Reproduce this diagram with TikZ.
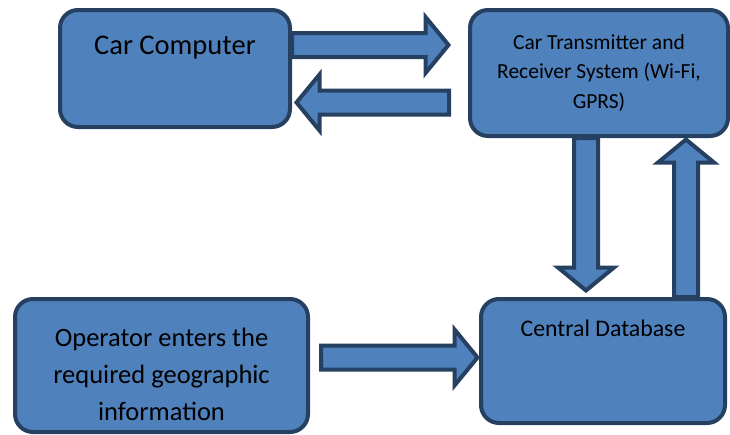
\documentclass[tikz,border=0pt]{standalone}
\usepackage{fontspec}
\setmainfont{Carlito}
\usetikzlibrary{calc}
\definecolor{boxfill}{RGB}{79,129,189}
\definecolor{boxline}{RGB}{38,64,97}
\begin{document}
\begin{tikzpicture}[x=1pt,y=-1pt,
  box/.style={draw=boxline,fill=boxfill,line width=4pt,rounded corners=18pt,inner sep=0pt,align=center},
  barrow/.style={draw=boxline,fill=boxfill,line width=4pt,line join=miter}]
\useasboundingbox (0,0) rectangle (730,434);
\newcommand\blockarrow[2]{
\path[barrow] let \p1=($(#2)-(#1)$), \n1={veclen(\x1,\y1)}, \n2={atan2(\y1,\x1)} in
  [shift={(#1)},rotate=\n2] (0pt,-12pt) -- (\n1-23pt,-12pt) -- (\n1-23pt,-28pt) -- (\n1,0pt)
  -- (\n1-23pt,28pt) -- (\n1-23pt,12pt) -- (0pt,12pt) -- cycle;
}
\node[box,minimum width=230pt,minimum height=117pt,text height=44.3pt,text depth=72.7pt,
  font=\fontsize{28.5}{34}\selectfont] (cc) at (175,68.5) {Car Computer};
\node[box,minimum width=258pt,minimum height=126pt,
  font=\fontsize{21.5}{29.5}\selectfont] (tr) at (599,73) {Car Transmitter and\\Receiver System (Wi-Fi,\\GPRS)};
\node[box,minimum width=293pt,minimum height=133pt,
  font=\fontsize{26.5}{37}\selectfont] (op) at (161.5,365.5) {\rule{0pt}{36pt}Operator enters the\\required geographic\\information};
\node[box,minimum width=244pt,minimum height=124pt,text height=37.7pt,text depth=86.3pt,
  font=\fontsize{23.8}{28}\selectfont] (db) at (603,361) {Central Database};
\coordinate (a1s) at ($(cc.east)+(0,-23.5)$);
\coordinate (a1t) at ($(tr.west)+(-19.5,-28)$);
\coordinate (a2s) at ($(tr.west)+(-19,29.5)$);
\coordinate (a2t) at ($(cc.east)+(4.5,34)$);
\coordinate (a3s) at ($(tr.south)+(-13,0)$);
\coordinate (a3t) at ($(db.north)+(-17,-6.5)$);
\coordinate (a4s) at ($(db.north)+(83,0)$);
\coordinate (a4t) at ($(tr.south)+(87,1.5)$);
\coordinate (a5s) at ($(op.east)+(11,-8)$);
\coordinate (a5t) at ($(db.west)+(-1.5,-3.5)$);
\blockarrow{a1s}{a1t}
\blockarrow{a2s}{a2t}
\blockarrow{a3s}{a3t}
\blockarrow{a4s}{a4t}
\blockarrow{a5s}{a5t}
\end{tikzpicture}
\end{document}
